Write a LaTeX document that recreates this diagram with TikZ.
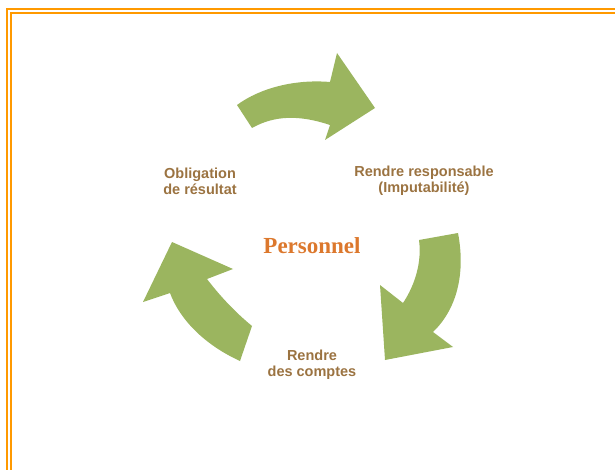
\documentclass[tikz,border=0pt]{standalone}
\usepackage{fontspec}
\setmainfont{Liberation Sans}
\newfontfamily\titlefont{Liberation Serif}
\usepackage{tikz}

\definecolor{frameorange}{RGB}{255,153,0}
\definecolor{arrowgreen}{RGB}{155,181,95}
\definecolor{labelbrown}{RGB}{155,115,65}
\definecolor{titleorange}{RGB}{220,120,45}

\tikzset{
  cyclearrow/.style={fill=arrowgreen, draw=none},
  steplabel/.style={align=center, text=labelbrown, font=\fontsize{14.5}{16}\selectfont\bfseries, inner sep=0pt}
}

\begin{document}
\begin{tikzpicture}[x=1pt, y=-1pt]
\useasboundingbox (0,0) rectangle (615,470);
% double frame, open to the right and bottom
\draw[frameorange, line width=2pt] (7,480) -- (7,9) -- (625,9);
\draw[frameorange, line width=2pt] (11,480) -- (11,13) -- (625,13);

% three curved arrows
\fill[cyclearrow] (237,105) .. controls (260,88) and (295,79) .. (330,82) -- (337,53) -- (375,108) -- (325,140) -- (330,125) .. controls (300,115) and (275,115) .. (252,128) -- cycle;
\fill[cyclearrow] (419,240) -- (458,233) .. controls (466,275) and (456,310) .. (433,332) -- (453,347) -- (385,360) -- (380,285) -- (403,303) .. controls (415,285) and (422,262) .. (419,240) -- cycle;
\fill[cyclearrow] (172,242) -- (233,269) -- (207,279) .. controls (220,296) and (235,312) .. (252,326) -- (240,361) .. controls (205,345) and (180,320) .. (170,293) -- (143,302) -- cycle;

% labels
\node[steplabel] (obligation) at (200,181) {Obligation\\de résultat};
\node[steplabel] (responsable) at (424,181) {Rendre responsable\\(Imputabilité)};
\node[steplabel] (comptes) at (312,365) {Rendre\\des comptes};
\node[anchor=base, text=titleorange, font=\fontsize{23}{26}\selectfont\titlefont\bfseries, inner sep=0pt] (personnel) at (312,253) {Personnel};
\end{tikzpicture}
\end{document}
